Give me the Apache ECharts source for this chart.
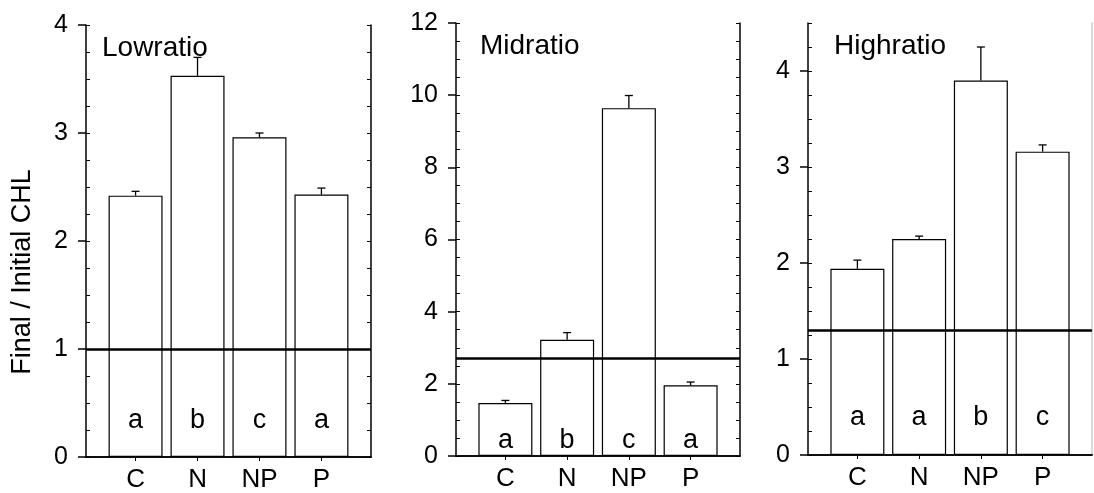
<!DOCTYPE html>
<html>
<head>
<meta charset="utf-8">
<script src="https://cdn.jsdelivr.net/npm/echarts@6/dist/echarts.min.js"></script>
<style>
  html, body { margin: 0; padding: 0; background: #fff; }
  #chart { width: 1094px; height: 493px; }
</style>
</head>
<body>
<div id="chart"></div>
<script>
// 三个面板的数据
var cats = ['C', 'N', 'NP', 'P'];
var catPos = [1, 2, 3, 4];

var lowMean = [2.42, 3.53, 2.96, 2.43];
var lowErr = [0.04, 0.17, 0.04, 0.06];
var lowLetters = ['a', 'b', 'c', 'a'];
var lowBase = 1.0;

var midMean = [1.47, 3.22, 9.64, 1.96];
var midErr = [0.07, 0.20, 0.35, 0.09];
var midLetters = ['a', 'b', 'c', 'a'];
var midBase = 2.72;

var highMean = [1.94, 2.25, 3.90, 3.16];
var highErr = [0.09, 0.03, 0.35, 0.07];
var highLetters = ['a', 'a', 'b', 'c'];
var highBase = 1.30;

var font = "'Liberation Sans', Arial, sans-serif";

// 面板设置
var panels = [
    {name: 'Lowratio', mean: lowMean, err: lowErr, letters: lowLetters, base: lowBase,
     grid: {left: 86, top: 25, width: 285, height: 433}, max: 4, step: 1, minor: 0.25, letterGap: 23,
     titleLeft: 97, rightColor: '#000'},
    {name: 'Midratio', mean: midMean, err: midErr, letters: midLetters, base: midBase,
     grid: {left: 456, top: 23, width: 284, height: 433}, max: 12, step: 2, minor: 0.5, letterGap: 2,
     titleLeft: 475, rightColor: '#000'},
    {name: 'Highratio', mean: highMean, err: highErr, letters: highLetters, base: highBase,
     grid: {left: 808, top: 23, width: 284, height: 432}, max: 4.5, step: 1, minor: 0.25, letterGap: 24,
     titleLeft: 829, rightColor: '#ccc'}
];

var chart = echarts.init(document.getElementById('chart'));

var grids = [], xAxes = [], yAxes = [], series = [], titles = [];

panels.forEach(function (p, i) {
    grids.push(p.grid);
    titles.push({
        text: p.name,
        left: p.titleLeft,
        top: p.grid.top + 4,
        textStyle: {fontSize: 28, fontWeight: 'normal', color: '#000', fontFamily: font}
    });

    // 下方x轴（分类标签）
    xAxes.push({
        gridIndex: i, type: 'value', min: 0.2, max: 4.8, position: 'bottom',
        axisLine: {lineStyle: {color: '#000', width: 1.5}},
        splitLine: {show: false},
        axisTick: {customValues: catPos, length: 4, lineStyle: {color: '#000'}},
        axisLabel: {
            customValues: catPos, margin: 10, fontSize: 26, color: '#000', fontFamily: font,
            formatter: function (v) { return cats[Math.round(v) - 1]; }
        }
    });
    // 上方x轴（只有刻度）
    xAxes.push({
        gridIndex: i, type: 'value', min: 0.2, max: 4.8, position: 'top',
        axisLine: {lineStyle: {color: '#000', width: 1.5}},
        splitLine: {show: false},
        axisTick: {customValues: catPos, length: 4, lineStyle: {color: '#000'}},
        axisLabel: {show: false}
    });

    // 左侧主y轴
    yAxes.push({
        gridIndex: i, type: 'value', min: 0, max: p.max, interval: p.step, position: 'left',
        axisLine: {show: true, lineStyle: {color: '#000', width: 1.5}},
        splitLine: {show: false},
        axisTick: {show: true, length: 8, lineStyle: {color: '#000', width: 1.5}},
        axisLabel: {margin: 18, fontSize: 25, color: '#000', fontFamily: font, showMaxLabel: p.max % p.step === 0}
    });
    // 左侧小刻度
    yAxes.push({
        gridIndex: i, type: 'value', min: 0, max: p.max, interval: p.minor, position: 'left',
        axisLine: {show: false},
        splitLine: {show: false},
        axisTick: {show: true, inside: true, length: 4, lineStyle: {color: '#000'}},
        axisLabel: {show: false}
    });
    // 右侧y轴
    yAxes.push({
        gridIndex: i, type: 'value', min: 0, max: p.max, interval: p.minor, position: 'right',
        axisLine: {show: true, lineStyle: {color: p.rightColor, width: 1.5}},
        splitLine: {show: false},
        axisTick: {show: i < 2, inside: true, length: 4, lineStyle: {color: '#000'}},
        axisLabel: {show: false}
    });

    var barData = p.mean.map(function (v, k) { return [catPos[k], v]; });
    var errData = p.mean.map(function (v, k) { return [catPos[k], v, p.err[k]]; });

    series.push({
        type: 'bar',
        xAxisIndex: 2 * i, yAxisIndex: 3 * i,
        data: barData,
        barWidth: 54,
        itemStyle: {color: '#fff', borderColor: '#000', borderWidth: 1.2},
        label: {
            show: true, position: 'insideBottom', distance: p.letterGap,
            fontSize: 27, color: '#000', fontFamily: font,
            formatter: function (d) { return p.letters[d.dataIndex]; }
        },
        markLine: {
            silent: true, symbol: 'none', label: {show: false},
            lineStyle: {color: '#000', width: 2.5, type: 'solid'},
            data: [{yAxis: p.base}]
        },
        z: 2
    });

    // 误差线
    series.push({
        type: 'custom',
        xAxisIndex: 2 * i, yAxisIndex: 3 * i,
        data: errData,
        z: 3,
        renderItem: function (params, api) {
            var x = api.value(0), v = api.value(1), e = api.value(2);
            var p0 = api.coord([x, v]);
            var p1 = api.coord([x, v + e]);
            var st = {stroke: '#000', lineWidth: 1.3};
            return {
                type: 'group',
                children: [
                    {type: 'line', shape: {x1: p0[0], y1: p0[1], x2: p1[0], y2: p1[1]}, style: st},
                    {type: 'line', shape: {x1: p1[0] - 4, y1: p1[1], x2: p1[0] + 4, y2: p1[1]}, style: st}
                ]
            };
        }
    });
});

var option = {
    backgroundColor: '#fff',
    animation: false,
    textStyle: {fontFamily: font},
    title: titles,
    grid: grids,
    xAxis: xAxes,
    yAxis: yAxes,
    series: series,
    // y轴标题
    graphic: [{
        type: 'text',
        x: 23, y: 272,
        rotation: Math.PI / 2,
        style: {
            text: 'Final / Initial CHL',
            fontSize: 27, fill: '#000', fontFamily: font,
            align: 'center', verticalAlign: 'middle'
        }
    }]
};
chart.setOption(option);
</script>
</body>
</html>
